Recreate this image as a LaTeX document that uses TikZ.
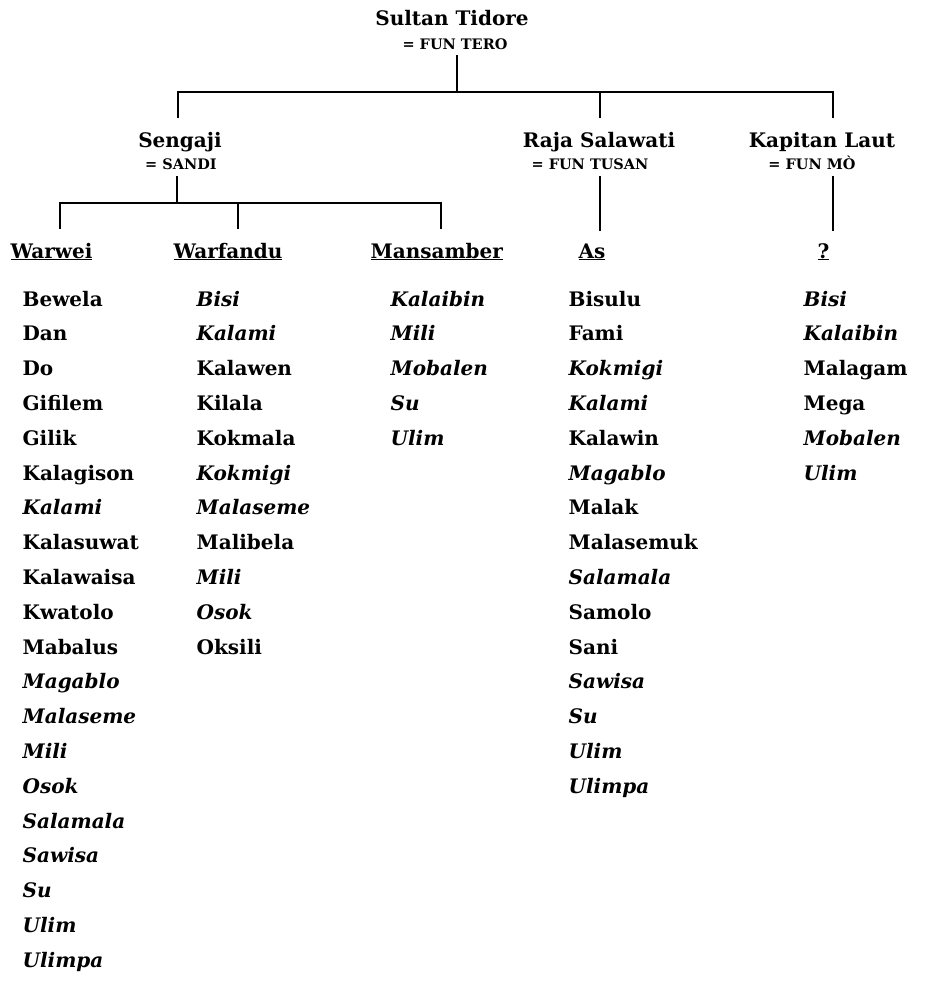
\documentclass[tikz,border=0pt]{standalone}
\usepackage{fontspec}
\setmainfont{DejaVu Serif}
\begin{document}
\begin{tikzpicture}[x=1pt,y=-1pt,
  line width=1.3pt,
  title/.style={font=\fontsize{20}{24}\selectfont\bfseries, inner sep=0pt, anchor=base},
  rank/.style={font=\fontsize{14.5}{17}\selectfont\bfseries, inner sep=0pt, anchor=base},
  head/.style={font=\fontsize{20}{24}\selectfont\bfseries, inner sep=0pt, anchor=base west},
  item/.style={font=\fontsize{20}{24}\selectfont\bfseries, inner sep=0pt, anchor=base west}]
\useasboundingbox (0,0) rectangle (930,994);

% rulers and their titles
\node[title] (sultan) at (452,25) {Sultan Tidore};
\node[rank]  (tero)   at (455,49) {= FUN TERO};
\node[title] (sengaji) at (180,147) {Sengaji};
\node[rank]  (sandi)   at (181,169) {= SANDI};
\node[title] (raja) at (599,147) {Raja Salawati};
\node[rank]  (tusan) at (590,169) {= FUN TUSAN};
\node[title] (kapitan) at (822,147) {Kapitan Laut};
\node[rank]  (mo) at (812,169) {= FUN MÒ};

% clan headings
\node[head] (warwei)    at (10,258)  {\underline{Warwei}};
\node[head] (warfandu)  at (173,258) {\underline{Warfandu}};
\node[head] (mansamber) at (370,258) {\underline{Mansamber}};
\node[head] (as)        at (578,258) {\underline{As}};
\node[head] (unknown)   at (817,258) {\underline{?}};

% connector end points
\coordinate (t0) at (457,55);
\coordinate (tbar) at (457,92);
\coordinate (tl) at (178,92);
\coordinate (tm) at (600,92);
\coordinate (tr) at (833,92);
\coordinate (tl2) at (178,118);
\coordinate (tm2) at (600,118);
\coordinate (tr2) at (833,118);
\coordinate (s0) at (177,176);
\coordinate (sbar) at (177,203);
\coordinate (sl) at (60,203);
\coordinate (sm) at (238,203);
\coordinate (sr) at (441,203);
\coordinate (sl2) at (60,229);
\coordinate (sm2) at (238,229);
\coordinate (sr2) at (441,229);
\coordinate (r0) at (600,176);
\coordinate (r1) at (600,231);
\coordinate (k0) at (833,176);
\coordinate (k1) at (833,231);

\draw (t0) -- (tbar);
\draw (tl2) -- (tl) -- (tr) -- (tr2);
\draw (tm) -- (tm2);
\draw (s0) -- (sbar);
\draw (sl2) -- (sl) -- (sr) -- (sr2);
\draw (sm) -- (sm2);
\draw (r0) -- (r1);
\draw (k0) -- (k1);

% clan lists
\def\rowgap{34.8}
\def\firstrow{306}
\foreach \t [count=\i] in {Bewela, Dan, Do, Gifilem, Gilik, Kalagison,
  \textit{Kalami}, Kalasuwat, Kalawaisa, Kwatolo, Mabalus, \textit{Magablo},
  \textit{Malaseme}, \textit{Mili}, \textit{Osok}, \textit{Salamala},
  \textit{Sawisa}, \textit{Su}, \textit{Ulim}, \textit{Ulimpa}}
  \node[item] (ww\i) at (22,{\firstrow+\rowgap*(\i-1)}) {\t};

\foreach \t [count=\i] in {\textit{Bisi}, \textit{Kalami}, Kalawen, Kilala,
  Kokmala, \textit{Kokmigi}, \textit{Malaseme}, Malibela, \textit{Mili},
  \textit{Osok}, Oksili}
  \node[item] (wf\i) at (196,{\firstrow+\rowgap*(\i-1)}) {\t};

\foreach \t [count=\i] in {\textit{Kalaibin}, \textit{Mili}, \textit{Mobalen},
  \textit{Su}, \textit{Ulim}}
  \node[item] (ms\i) at (390,{\firstrow+\rowgap*(\i-1)}) {\t};

\foreach \t [count=\i] in {Bisulu, Fami, \textit{Kokmigi}, \textit{Kalami},
  Kalawin, \textit{Magablo}, Malak, Malasemuk, \textit{Salamala}, Samolo, Sani,
  \textit{Sawisa}, \textit{Su}, \textit{Ulim}, \textit{Ulimpa}}
  \node[item] (as\i) at (568,{\firstrow+\rowgap*(\i-1)}) {\t};

\foreach \t [count=\i] in {\textit{Bisi}, \textit{Kalaibin}, Malagam, Mega,
  \textit{Mobalen}, \textit{Ulim}}
  \node[item] (uk\i) at (803,{\firstrow+\rowgap*(\i-1)}) {\t};
\end{tikzpicture}
\end{document}
